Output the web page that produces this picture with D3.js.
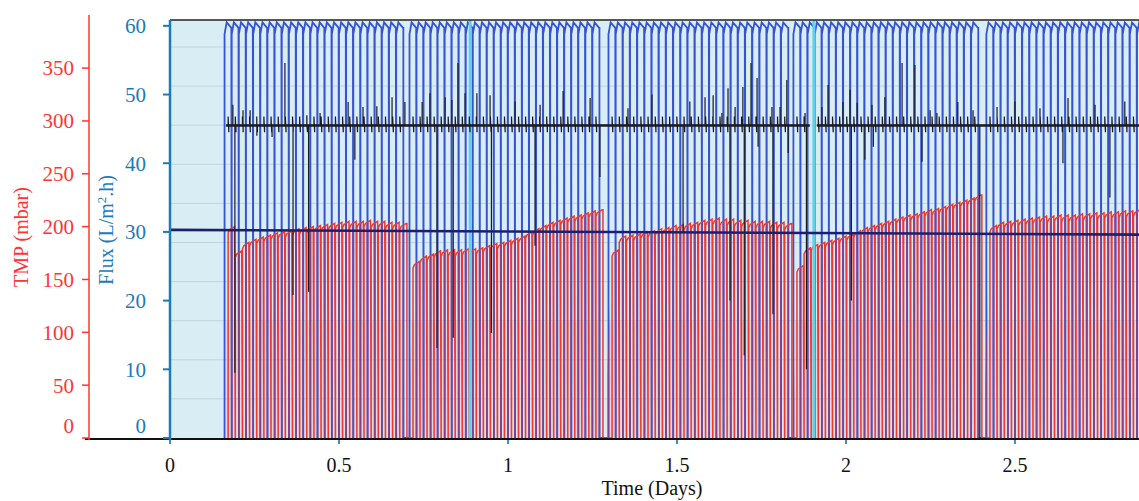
<!DOCTYPE html>
<html>
<head>
<meta charset="utf-8">
<script src="https://cdn.jsdelivr.net/npm/d3@7"></script>
<style>
  body { margin: 0; background: #fff; }
  svg { display: block; }
  text { font-family: "Liberation Serif", "DejaVu Serif", serif; }
</style>
</head>
<body>
<svg id="chart" width="1139" height="501"></svg>
<script>
// ---- data ----
var dayTicks  = [0, 0.5, 1, 1.5, 2, 2.5];
var fluxTicks = [0, 10, 20, 30, 40, 50, 60];
var tmpTicks  = [0, 50, 100, 150, 200, 250, 300, 350];
var gridLevels = [1, 2, 3, 4, 5, 6, 7, 8, 9, 10];

// filtration runs (days) and TMP (mbar) reached in each cycle
var runStart = [0.172, 0.719, 1.308, 1.855, 2.426];
var runEnd   = [0.701, 1.281, 1.840, 2.402, 2.893];
var tmpRun1 = [198, 175, 183, 186, 188, 190, 192, 193, 194, 196, 197, 198, 199, 200, 201, 202, 203, 203, 203, 204, 203, 203, 202, 202, 201];
var tmpRun2 = [165, 170, 172, 175, 176, 176, 176, 177, 177, 178, 180, 182, 183, 185, 187, 189, 193, 196, 199, 202, 204, 206, 208, 209, 211, 213, 214];
var tmpRun3 = [176, 189, 190, 191, 193, 194, 196, 197, 199, 200, 201, 202, 204, 205, 206, 205, 205, 204, 204, 203, 203, 203, 202, 202, 201];
var tmpRun4 = [161, 178, 181, 183, 185, 187, 189, 191, 194, 197, 199, 201, 203, 205, 207, 209, 210, 212, 214, 215, 217, 219, 221, 223, 225, 228];
var tmpRun5 = [199, 202, 203, 204, 205, 206, 207, 208, 208, 209, 209, 209, 210, 210, 211, 211, 212, 212, 213, 213, 214, 214];
var tmpRuns = [tmpRun1, tmpRun2, tmpRun3, tmpRun4, tmpRun5];

// typical shape of one cycle: [fraction of cycle, value or offset]
var tmpShape   = [[0, -4], [0.2, -1], [0.9, 2]];
var fluxShape  = [[0, 58.8], [0.3, 60.5], [0.95, 59.7]];
var blackCycle = [46.8, 44.5];   // small kick of the black trace at each cycle

// black trace: baseline with spikes [day, flux]
var blackBase  = 45.5;
var blackStart = [0.166, 1.914];
var blackEnd   = [1.893, 2.87];
var blackSpikes = [
  [0.186, 48.5], [0.192, 9.5], [0.216, 47.7], [0.237, 47.7], [0.257, 44.0], [0.302, 43.8],
  [0.340, 54.6], [0.364, 20.8], [0.405, 47.0], [0.410, 21.3], [0.444, 47.3], [0.527, 48.9],
  [0.547, 40.5], [0.571, 48.2], [0.612, 48.3], [0.657, 49.6], [0.695, 48.9], [0.746, 48.9],
  [0.769, 50.2], [0.790, 13.1], [0.814, 49.6], [0.834, 49.2], [0.838, 14.6], [0.852, 54.6],
  [0.873, 50.2], [0.908, 50.2], [0.947, 49.9], [0.951, 15.3], [1.021, 49.0], [1.080, 28.0],
  [1.095, 48.5], [1.163, 50.5], [1.243, 49.5], [1.272, 38.0], [1.355, 48.0], [1.426, 50.0],
  [1.518, 30.0], [1.538, 49.0], [1.583, 49.6], [1.607, 49.9], [1.633, 47.3], [1.651, 50.9],
  [1.657, 20.0], [1.672, 48.2], [1.695, 51.1], [1.699, 12.0], [1.719, 54.6], [1.737, 52.4],
  [1.740, 42.4], [1.781, 48.2], [1.784, 18.0], [1.805, 48.2], [1.825, 52.1], [1.829, 41.5],
  [1.879, 47.3], [1.883, 10.0], [1.929, 48.2], [1.947, 51.4], [1.991, 48.9], [2.012, 50.7],
  [2.016, 20.0], [2.033, 48.8], [2.056, 40.5], [2.077, 48.5], [2.081, 42.4], [2.115, 49.6],
  [2.166, 54.6], [2.204, 54.3], [2.225, 40.2], [2.249, 47.7], [2.269, 47.3], [2.331, 48.9],
  [2.376, 47.7], [2.396, 0.0], [2.447, 48.2], [2.500, 49.0], [2.574, 48.0], [2.642, 40.0],
  [2.657, 49.5], [2.737, 48.5], [2.781, 35.0], [2.825, 49.0]
];

// set-point line (flux) and cyan markers (days)
var setPoint = [[0, 30.3], [2.867, 29.6]];
var cyanMarks = [0.888, 1.905];

// ---- layout ----
var svg = d3.select('#chart');

var x = d3.scaleLinear().domain([0, 2.867]).range([170, 1139]);
var yFlux = d3.scaleLinear().domain([0, 60.85]).range([438, 20]);
var yTmp = d3.scaleLinear().domain([0, 395.5]).range([438, 20]);
var yGrid = d3.scaleLinear().domain([0, 10.69]).range([438, 20]);

var defs = svg.append('defs');
defs.append('clipPath').attr('id', 'plotclip')
  .append('rect').attr('x', 170).attr('y', 20).attr('width', 969).attr('height', 419);

// background
svg.append('rect')
  .attr('x', 170).attr('y', 20).attr('width', 969).attr('height', 419)
  .attr('fill', '#d8eef4');

svg.append('g').selectAll('line').data(gridLevels).enter().append('line')
  .attr('x1', 170).attr('x2', 1139)
  .attr('y1', function(d){ return yGrid(d) }).attr('y2', function(d){ return yGrid(d) })
  .attr('stroke', '#9fb7be').attr('stroke-opacity', 0.45).attr('stroke-width', 1);

var plot = svg.append('g').attr('clip-path', 'url(#plotclip)');

// build cycles
var tmpPts = [], fluxPts = [], redTimes = [], envPts = [];
runStart.forEach(function(s, r){
  var vals = tmpRuns[r];
  var n = vals.length;
  var p = (runEnd[r] - s) / n;
  vals.forEach(function(v, i){
    var t = s + i * p;
    redTimes.push(t);
    tmpPts.push([t, 0]);
    tmpShape.forEach(function(sh){ tmpPts.push([t + sh[0] * p, v + sh[1]]) });
    envPts.push([t, v - 4], [t + p, v + 2]);
  });
  tmpPts.push([runEnd[r], vals[n - 1] + 2], [runEnd[r], 0]);
  envPts.push([runEnd[r], 0], [runEnd[r] + 0.004, 0]);

  for (var i = 0; i < n; i++) {
    var b = s + (i - 0.5) * p;
    fluxPts.push([b, 0]);
    fluxShape.forEach(function(sh){ fluxPts.push([b + sh[0] * p, sh[1]]) });
  }
  fluxPts.push([s + (n - 0.5) * p, 59.7], [s + (n - 0.5) * p, 0]);
});

// region under the TMP envelope, used to tint the flux lines purple there
var envArea = d3.area()
  .x(function(d){ return x(d[0]) })
  .y0(yTmp(0)).y1(function(d){ return yTmp(d[1]) });
defs.append('clipPath').attr('id', 'envclip')
  .append('path').datum(envPts).attr('d', envArea);

// pale pink under the lower part of TMP lines
plot.append('g').selectAll('line').data(redTimes).enter().append('line')
  .attr('x1', function(d){ return x(d) }).attr('x2', function(d){ return x(d) })
  .attr('y1', yTmp(0)).attr('y2', yTmp(110))
  .attr('stroke', '#f6b0a4').attr('stroke-opacity', 0.4).attr('stroke-width', 4);

var fluxLine = d3.line().x(function(d){ return x(d[0]) }).y(function(d){ return yFlux(d[1]) });
var tmpLine = d3.line().x(function(d){ return x(d[0]) }).y(function(d){ return yTmp(d[1]) });

plot.append('path').datum(fluxPts)
  .attr('d', fluxLine).attr('fill', 'none')
  .attr('stroke', '#3852d4').attr('stroke-width', 1.8);

plot.append('g').attr('clip-path', 'url(#envclip)')
  .append('path').datum(fluxPts)
  .attr('d', fluxLine).attr('fill', 'none')
  .attr('stroke', '#84408f').attr('stroke-width', 1.7);

plot.append('path').datum(tmpPts)
  .attr('d', tmpLine).attr('fill', 'none')
  .attr('stroke', '#f2382c').attr('stroke-width', 1.5);

plot.append('g').selectAll('line').data(cyanMarks).enter().append('line')
  .attr('x1', function(d){ return x(d) }).attr('x2', function(d){ return x(d) })
  .attr('y1', yFlux(0)).attr('y2', 20)
  .attr('stroke', '#5cd3ea').attr('stroke-width', 3);

// black trace, two pieces: thick baseline + thinner spikes
blackStart.forEach(function(s, k){
  var e = blackEnd[k];
  plot.append('path').datum([[s, blackBase], [e, blackBase]])
    .attr('d', fluxLine).attr('fill', 'none')
    .attr('stroke', '#1b1b22').attr('stroke-width', 2.6);

  var pts = [[s, blackBase]];
  redTimes.forEach(function(t){
    if (t > s && t < e) pts.push([t, blackBase], [t, blackCycle[0]], [t + 0.002, blackCycle[1]], [t + 0.002, blackBase]);
  });
  blackSpikes.forEach(function(sp){
    if (sp[0] > s && sp[0] < e) pts.push([sp[0], blackBase], [sp[0], sp[1]], [sp[0], blackBase]);
  });
  pts.sort(function(a, b){ return a[0] - b[0] });
  plot.append('path').datum(pts)
    .attr('d', fluxLine).attr('fill', 'none')
    .attr('stroke', '#1b1b22').attr('stroke-width', 1.2);
});

plot.append('path').datum(setPoint)
  .attr('d', fluxLine).attr('fill', 'none')
  .attr('stroke', '#1d1f6e').attr('stroke-width', 2.6);

// top border
svg.append('line').attr('x1', 170).attr('x2', 1139).attr('y1', 20).attr('y2', 20)
  .attr('stroke', '#222').attr('stroke-width', 1.5);

// x axis
svg.append('line').attr('x1', 85).attr('x2', 1139).attr('y1', 439).attr('y2', 439)
  .attr('stroke', '#111').attr('stroke-width', 2);
var xAxis = svg.append('g');
xAxis.selectAll('line').data(dayTicks).enter().append('line')
  .attr('x1', function(d){ return x(d) }).attr('x2', function(d){ return x(d) })
  .attr('y1', 440).attr('y2', 444).attr('stroke', '#3a90c8').attr('stroke-width', 2);
xAxis.selectAll('text').data(dayTicks).enter().append('text')
  .attr('x', function(d){ return x(d) }).attr('y', 472)
  .attr('text-anchor', 'middle').attr('font-size', 20).attr('fill', '#111')
  .text(function(d){ return d });
svg.append('text').attr('x', 652).attr('y', 495).attr('text-anchor', 'middle')
  .attr('font-size', 20).attr('fill', '#111').text('Time (Days)');

// flux axis
var fluxCol = '#1b7bb8';
svg.append('line').attr('x1', 170).attr('x2', 170).attr('y1', 20).attr('y2', 440)
  .attr('stroke', fluxCol).attr('stroke-width', 2.5);
var fa = svg.append('g');
fa.selectAll('line').data(fluxTicks).enter().append('line')
  .attr('x1', 163).attr('x2', 170)
  .attr('y1', function(d){ return yFlux(d) }).attr('y2', function(d){ return yFlux(d) })
  .attr('stroke', fluxCol).attr('stroke-width', 2);
fa.selectAll('text').data(fluxTicks).enter().append('text')
  .attr('x', 146).attr('y', function(d){ return yFlux(d) - (d === 0 ? 12 : 0) })
  .attr('dy', '0.35em').attr('text-anchor', 'end')
  .attr('font-size', 21).attr('fill', fluxCol)
  .text(function(d){ return d });
svg.append('text')
  .attr('transform', 'translate(113,230) rotate(-90)')
  .attr('text-anchor', 'middle').attr('font-size', 20).attr('fill', fluxCol)
  .html('Flux (L/m<tspan dy="-7" font-size="13">2</tspan><tspan dy="7">.h)</tspan>');

// TMP axis
var tmpCol = '#ff3535';
svg.append('line').attr('x1', 89).attr('x2', 89).attr('y1', 15).attr('y2', 440)
  .attr('stroke', tmpCol).attr('stroke-width', 1.5);
var ta = svg.append('g');
ta.selectAll('line').data(tmpTicks).enter().append('line')
  .attr('x1', 82).attr('x2', 89)
  .attr('y1', function(d){ return yTmp(d) }).attr('y2', function(d){ return yTmp(d) })
  .attr('stroke', tmpCol).attr('stroke-width', 1.5);
ta.selectAll('text').data(tmpTicks).enter().append('text')
  .attr('x', 74).attr('y', function(d){ return yTmp(d) - (d === 0 ? 12 : 0) })
  .attr('dy', '0.35em').attr('text-anchor', 'end')
  .attr('font-size', 21).attr('fill', tmpCol)
  .text(function(d){ return d });
svg.append('text')
  .attr('transform', 'translate(28,237) rotate(-90)')
  .attr('text-anchor', 'middle').attr('font-size', 20).attr('fill', tmpCol)
  .text('TMP (mbar)');
</script>
</body>
</html>
